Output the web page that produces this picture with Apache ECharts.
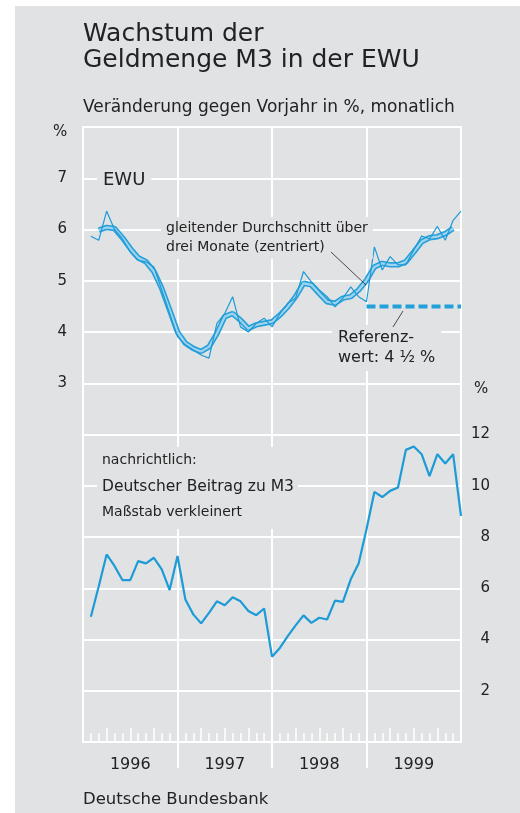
<!DOCTYPE html>
<html>
<head>
<meta charset="utf-8">
<script src="https://cdn.jsdelivr.net/npm/echarts@6/dist/echarts.min.js"></script>
<style>
  html, body { margin: 0; padding: 0; background: #fff; }
  #bg { position: absolute; left: 15px; top: 6px; width: 505px; height: 807px; background: #e1e2e4; }
  #main { position: absolute; left: 0; top: 0; width: 520px; height: 813px; }
</style>
</head>
<body>
<div id="bg"></div>
<div id="main"></div>
<script>
// Jahre (Achsbeschriftung)
var years = ['1996', '1997', '1998', '1999'];

// EWU M3, Veränderung gegen Vorjahr in %, Jan 1996 - Dez 1999
var ewu = [5.87, 5.79, 6.36, 6.00, 5.82, 5.56, 5.40, 5.37, 5.27, 4.82, 4.36, 3.91,
           3.75, 3.65, 3.55, 3.49, 4.17, 4.36, 4.69, 4.10, 4.00, 4.17, 4.27, 4.10,
           4.36, 4.56, 4.66, 5.18, 4.98, 4.82, 4.69, 4.49, 4.66, 4.88, 4.69, 4.59,
           5.66, 5.21, 5.47, 5.31, 5.31, 5.60, 5.87, 5.82, 6.06, 5.79, 6.18, 6.36];

// gleitender Durchschnitt über drei Monate (zentriert)
var ewuAvg = [null, 5.99, 6.04, 6.02, 5.84, 5.63, 5.45, 5.37, 5.18, 4.85, 4.43, 4.00,
              3.78, 3.68, 3.62, 3.71, 3.97, 4.30, 4.36, 4.23, 4.07, 4.14, 4.17, 4.20,
              4.33, 4.49, 4.69, 4.95, 4.92, 4.75, 4.59, 4.56, 4.66, 4.69, 4.82, 5.01,
              5.27, 5.34, 5.31, 5.31, 5.37, 5.56, 5.76, 5.84, 5.86, 5.92, 6.02, null];

// Deutscher Beitrag zu M3 (rechte Skala)
var deBeitrag = [4.89, 6.08, 7.32, 6.87, 6.32, 6.32, 7.06, 6.97, 7.19, 6.74, 5.93, 7.26,
                 5.56, 4.98, 4.63, 5.04, 5.49, 5.34, 5.65, 5.49, 5.11, 4.95, 5.21, 3.33,
                 3.67, 4.13, 4.55, 4.94, 4.65, 4.85, 4.78, 5.52, 5.47, 6.35, 6.97, 8.30,
                 9.76, 9.56, 9.80, 9.93, 11.40, 11.53, 11.23, 10.38, 11.23, 10.87, 11.23, 8.82];

// Referenzwert 4 1/2 % ab Januar 1999
var refValue = 4.5;
var refRange = [36, 48];

var leftLabels = [3, 4, 5, 6, 7];
var rightLabels = [2, 4, 6, 8, 10, 12];

function toPoints(arr) {
    return arr.map(function (v, i) { return [i + 1, v]; });
}

var FONT = '"DejaVu Sans", sans-serif';
var TXT = '#222';
var BLUE = '#1c9bd7';
var PANEL = '#e1e2e4';

var chart = echarts.init(document.getElementById('main'), null, { renderer: 'canvas' });

var white = { color: '#fff', width: 2 };

function tickAxis(step, len) {
    return {
        type: 'value', min: 0, max: 48, interval: step, position: 'bottom', gridIndex: 0,
        axisLine: { show: false, onZero: false }, splitLine: { show: false }, axisLabel: { show: false },
        axisTick: { show: true, inside: true, length: len, lineStyle: { color: '#fff', width: 1.5 } }
    };
}

chart.setOption({
    animation: false,
    textStyle: { fontFamily: FONT },
    grid: [
        { left: 83, right: 59, top: 127, bottom: 71 },
        // schmaler Streifen unter der Achse für die Jahrestrennlinien
        { left: 83, right: 59, top: 742, bottom: 45 }
    ],
    xAxis: [{
        type: 'value', min: 0, max: 48, interval: 12, position: 'bottom', gridIndex: 0,
        axisLine: { show: true, onZero: false, lineStyle: white },
        splitLine: { show: true, lineStyle: white },
        axisTick: { show: false },
        axisLabel: {
            customValues: [6, 18, 30, 42], margin: 15, fontSize: 16, color: TXT, fontFamily: FONT,
            formatter: function (v) { return years[Math.round((v - 6) / 12)]; }
        }
    }, tickAxis(1, 9), tickAxis(3, 14), {
        type: 'value', min: 0, max: 48, interval: 12, gridIndex: 1,
        axisLine: { show: false, onZero: false }, axisTick: { show: false }, axisLabel: { show: false },
        splitLine: { show: true, showMinLine: false, showMaxLine: false, lineStyle: white }
    }],
    yAxis: [{
        type: 'value', min: -4, max: 8, interval: 1, position: 'left', gridIndex: 0,
        axisLine: { show: true, onZero: false, lineStyle: white },
        axisTick: { show: false },
        splitLine: { show: true, lineStyle: white },
        axisLabel: {
            margin: 16, fontSize: 15, color: TXT, fontFamily: FONT,
            formatter: function (v) { return leftLabels.indexOf(v) >= 0 ? String(v) : ''; }
        }
    }, {
        type: 'value', min: 0, max: 24, interval: 2, position: 'right', gridIndex: 0,
        axisLine: { show: true, onZero: false, lineStyle: white },
        axisTick: { show: false },
        splitLine: { show: false },
        axisLabel: {
            margin: 29, align: 'right', fontSize: 15, color: TXT, fontFamily: FONT,
            formatter: function (v) { return rightLabels.indexOf(v) >= 0 ? String(v) : ''; }
        }
    }, {
        type: 'value', min: 0, max: 1, gridIndex: 1,
        axisLine: { show: false }, axisTick: { show: false }, axisLabel: { show: false }, splitLine: { show: false }
    }],
    series: [{
        type: 'line', name: 'Durchschnitt', data: toPoints(ewuAvg), showSymbol: false,
        lineStyle: { color: '#2aa0d9', width: 5.5 }, z: 3
    }, {
        type: 'line', name: 'Durchschnitt hell', data: toPoints(ewuAvg), showSymbol: false,
        lineStyle: { color: '#9fd4ee', width: 2.2 }, z: 4
    }, {
        type: 'line', name: 'EWU', data: toPoints(ewu), showSymbol: false,
        lineStyle: { color: BLUE, width: 1.2 }, z: 5
    }, {
        type: 'line', name: 'Referenzwert', data: [[refRange[0], refValue], [refRange[1], refValue]],
        showSymbol: false, lineStyle: { color: '#22a0da', width: 4, type: [9, 4] }, z: 5
    }, {
        type: 'line', name: 'Deutscher Beitrag', yAxisIndex: 1, data: toPoints(deBeitrag), showSymbol: false,
        lineStyle: { color: BLUE, width: 2.2 }, z: 5
    }],
    graphic: [
        { type: 'text', left: 83, top: 22, style: { text: 'Wachstum der', font: '25px ' + FONT, fill: TXT } },
        { type: 'text', left: 83, top: 48, style: { text: 'Geldmenge M3 in der EWU', font: '25px ' + FONT, fill: TXT } },
        { type: 'text', left: 83, top: 99, style: { text: 'Veränderung gegen Vorjahr in %, monatlich', font: '17px ' + FONT, fill: TXT } },
        { type: 'text', left: 53, top: 125, style: { text: '%', font: '15px ' + FONT, fill: TXT } },
        { type: 'text', left: 474, top: 382, style: { text: '%', font: '15px ' + FONT, fill: TXT } },
        { type: 'text', left: 97, top: 170, z: 10, style: { text: 'EWU', font: '18px ' + FONT, fill: TXT, backgroundColor: PANEL, padding: [1, 6, 1, 6] } },
        { type: 'text', left: 161, top: 217, z: 10, style: { text: 'gleitender Durchschnitt über\ndrei Monate (zentriert)', font: '14px ' + FONT, lineHeight: 19, fill: TXT, backgroundColor: PANEL, padding: [2, 5, 2, 5] } },
        { type: 'line', z: 10, shape: { x1: 331, y1: 252, x2: 366, y2: 285 }, style: { stroke: '#222', lineWidth: 0.8 } },
        { type: 'text', left: 332, top: 325, z: 10, style: { text: 'Referenz-\nwert: 4 ½ %', font: '16px ' + FONT, lineHeight: 20, fill: TXT, backgroundColor: PANEL, padding: [3, 6, 3, 6] } },
        { type: 'line', z: 10, shape: { x1: 403, y1: 311, x2: 393, y2: 327 }, style: { stroke: '#222', lineWidth: 0.8 } },
        { type: 'rect', z: 9, shape: { x: 97, y: 447, width: 201, height: 82 }, style: { fill: PANEL } },
        { type: 'text', left: 102, top: 453, z: 10, style: { text: 'nachrichtlich:', font: '14px ' + FONT, fill: TXT } },
        { type: 'text', left: 102, top: 479, z: 10, style: { text: 'Deutscher Beitrag zu M3', font: '15.5px ' + FONT, fill: TXT } },
        { type: 'text', left: 102, top: 505, z: 10, style: { text: 'Maßstab verkleinert', font: '14px ' + FONT, fill: TXT } },
        { type: 'text', left: 83, top: 791, style: { text: 'Deutsche Bundesbank', font: '16.5px ' + FONT, fill: TXT } }
    ]
});
</script>
</body>
</html>
